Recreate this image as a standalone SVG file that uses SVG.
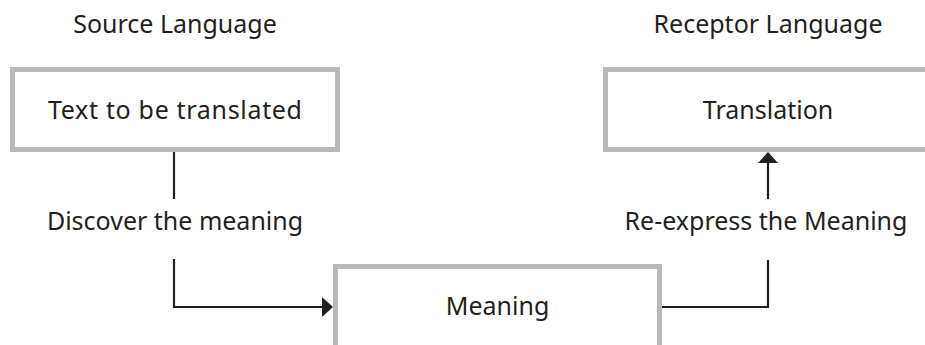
<svg xmlns="http://www.w3.org/2000/svg" width="925" height="345" viewBox="0 0 925 345">
<style>
.box{fill:#ffffff;stroke:#b9b9b9;stroke-width:5}
.t{font-family:"Noto Sans","Open Sans","DejaVu Sans",sans-serif;font-size:25px;fill:#231f20;text-anchor:middle}
.c{fill:none;stroke:#231f20;stroke-width:2.2}
</style>
<defs>
<marker id="ah" markerUnits="userSpaceOnUse" markerWidth="11" markerHeight="20" refX="0" refY="10" orient="auto" viewBox="0 0 11 20">
<path d="M0,0 L11,10 L0,20 Z" fill="#231f20"/>
</marker>
</defs>
<rect width="925" height="345" fill="#ffffff"/>
<text class="t" x="175" y="33">Source Language</text>
<text class="t" x="768" y="33">Receptor Language</text>
<g id="source">
<rect class="box" x="12.5" y="69.5" width="325" height="80"/>
<text class="t" x="175" y="119" textLength="254" lengthAdjust="spacing">Text to be translated</text>
</g>
<g id="translation">
<rect class="box" x="605.5" y="69.5" width="325" height="80"/>
<text class="t" x="768" y="119">Translation</text>
</g>
<g id="meaning">
<rect class="box" x="335.5" y="266.5" width="324" height="85"/>
<text class="t" x="497.5" y="315">Meaning</text>
</g>
<g id="connectors">
<path class="c" d="M174,152 V199"/>
<path class="c" d="M174,259 V307 H322" marker-end="url(#ah)"/>
<path class="c" d="M662,307 H768 V260"/>
<path class="c" d="M768,199 V163" marker-end="url(#ah)"/>
<text class="t" x="175" y="230">Discover the meaning</text>
<text class="t" x="766" y="230">Re-express the Meaning</text>
</g>
</svg>
